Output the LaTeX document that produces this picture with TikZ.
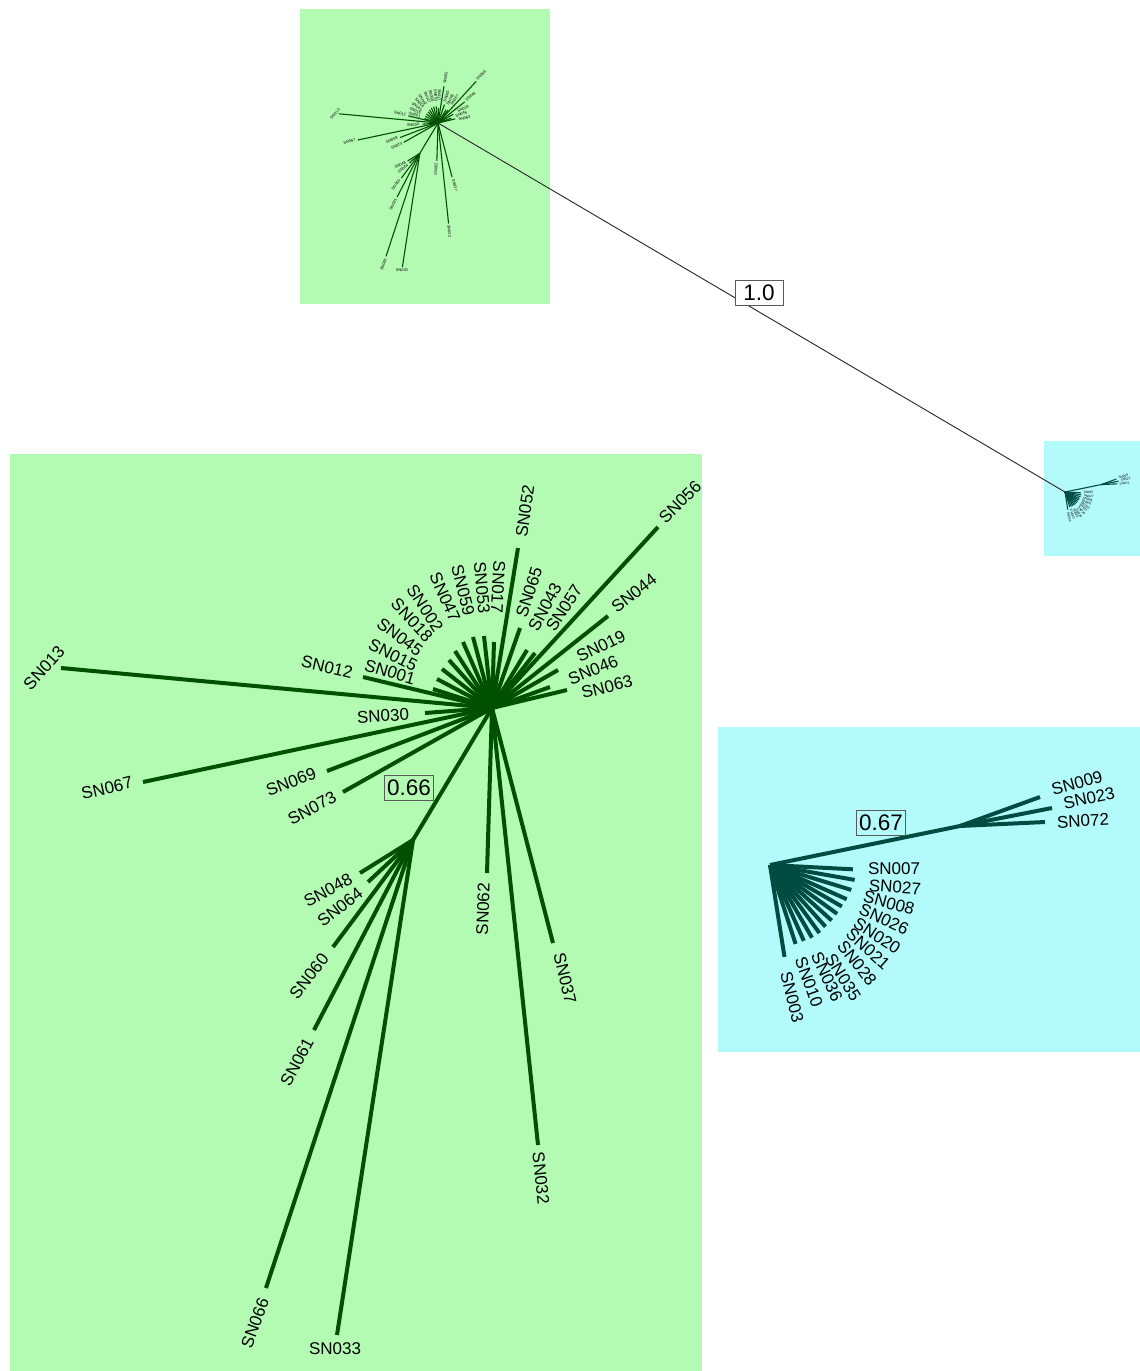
\documentclass[tikz,border=0pt]{standalone}
\usepackage{fontspec}
\setmainfont{Liberation Sans}
\definecolor{gdark}{RGB}{0,80,0}
\definecolor{cdark}{RGB}{0,76,66}
\definecolor{greenbg}{RGB}{179,251,179}
\definecolor{cyanbg}{RGB}{179,251,251}
\definecolor{boxgray}{RGB}{90,90,90}
\def\tlw{4pt}
\tikzset{
  gline/.style={draw=gdark, line width=\tlw},
  cline/.style={draw=cdark, line width=\tlw},
  lab/.style={font=\fontsize{17}{20}\selectfont, inner sep=1pt, text=black},
  valbox/.style={draw=boxgray, line width=0.9pt, font=\fontsize{22.5}{25}\selectfont, inner xsep=2.5pt, minimum height=25pt, text=black},
  link/.style={draw=black!85, line width=0.9pt}
}
\newcommand\greentree[1]{%
  \coordinate (#1C) at (0,0);
  \coordinate (#1S) at (-79,132);
  \draw[gline] (#1C) -- (#1S);
  \foreach \n/\ex/\ey/\lx/\ly/\r in {
     013/-431/-40/-448/-40/48,
     012/-129/-31/-165/-41/-13,
     001/-59/-19/-102/-36/-17,
     015/-55/-29/-99/-53/-27,
     045/-50/-39/-92/-71/-37,
     018/-43/-48/-80/-88/-47,
     002/-37/-57/-67/-100/-57,
     047/-29/-66/-47/-111/-66,
     059/-19/-71/-29/-118/-76,
     053/-8/-72/-10/-120/-85,
     017/2/-66/6/-121/-93,
     052/26/-160/33/-197/82,
     065/28/-80/37/-116/72,
     043/35/-58/53/-101/62,
     057/43/-55/72/-100/57,
     056/166/-181/188/-206/45,
     044/116/-92/142/-115/38,
     019/66/-38/109/-62/26,
     046/58/-21/101/-38/22,
     063/75/-18/115/-21/14,
     030/-67/5/-109/8/3,
     067/-349/74/-385/80/13,
     069/-165/63/-201/74/21,
     073/-149/84/-180/100/28,
     062/-5/165/-9/201/88,
     032/46/437/49/470/-84,
     037/61/235/73/270/-77}{
    \coordinate (#1e\n) at (\ex,\ey);
    \draw[gline] (#1C) -- (#1e\n);
    \node[lab, rotate=\r] (#1l\n) at (\lx,\ly) {SN\n};
  }
  \foreach \n/\ex/\ey/\lx/\ly/\r in {
     048/-132/165/-164/182/28,
     064/-124/174/-152/199/38,
     060/-159/239/-183/268/52,
     061/-178/322/-195/354/62,
     066/-226/580/-237/615/70,
     033/-155/627/-157/641/0}{
    \coordinate (#1e\n) at (\ex,\ey);
    \draw[gline] (#1S) -- (#1e\n);
    \node[lab, rotate=\r] (#1l\n) at (\lx,\ly) {SN\n};
  }
}
\newcommand\cyantree[1]{%
  \coordinate (#1R) at (0,0);
  \coordinate (#1N) at (190,-39);
  \draw[cline] (#1R) -- (#1N);
  \foreach \n/\ex/\ey/\lx/\ly/\r in {
     009/270/-68/307/-82/15,
     023/282/-57/319/-67/12,
     072/275/-43/313/-44/3}{
    \coordinate (#1e\n) at (\ex,\ey);
    \draw[cline] (#1N) -- (#1e\n);
    \node[lab, rotate=\r] (#1l\n) at (\lx,\ly) {SN\n};
  }
  \foreach \i/\ex/\ey in {1/82.9/4.3, 2/84.7/14.9, 3/81.3/24.9, 4/76.7/34.2,
     5/71.9/41.5, 6/67.1/48.8, 7/61.7/55.5, 8/55.5/61.7, 9/49.4/68.0,
     10/42/72.7, 11/33.8/75.8, 12/25.6/78.9, 13/14.5/91.9}{
    \coordinate (#1f\i) at (\ex,\ey);
    \draw[cline] (#1R) -- (#1f\i);
  }
  \foreach \n/\lx/\ly/\r in {
     007/124/4/0, 027/125/22/-4, 008/119/38/-15, 026/114/54/-25,
     020/107/71/-33, 021/98/84/-42, 028/87/98/-52, 035/73/112/-58,
     036/57/112/-65, 010/39/117/-70, 003/22/132/-76}{
    \node[lab, rotate=\r] (#1l\n) at (\lx,\ly) {SN\n};
  }
}
\begin{document}
\begin{tikzpicture}[x=1pt,y=-1pt]
\useasboundingbox (0,0) rectangle (1140,1371);
\fill[white] (0,0) rectangle (1140,1371);
% backgrounds
\fill[greenbg] (300,9) rectangle (550,304);
\fill[cyanbg] (1044,441) rectangle (1140,556);
\fill[greenbg] (10,454) rectangle (702,1371);
\fill[cyanbg] (718,727) rectangle (1140,1052);
% mini overview trees
\begin{scope}[shift={(438,123)}, scale=0.23, transform shape]
  \def\tlw{1.1pt}
  \greentree{m}
\end{scope}
\begin{scope}[shift={(1065,492)}, scale=0.19, transform shape]
  \def\tlw{1.1pt}
  \cyantree{n}
\end{scope}
\draw[link] (mC) -- (nR);
\node[valbox, fill=white, minimum width=48pt] (v10) at (759,293) {1.0};
% main trees
\begin{scope}[shift={(492,708)}]
  \greentree{g}
\end{scope}
\begin{scope}[shift={(770,865)}]
  \cyantree{c}
\end{scope}
\node[valbox] (v066) at (409,788) {0.66};
\node[valbox] (v067) at (881,823) {0.67};
\end{tikzpicture}
\end{document}
